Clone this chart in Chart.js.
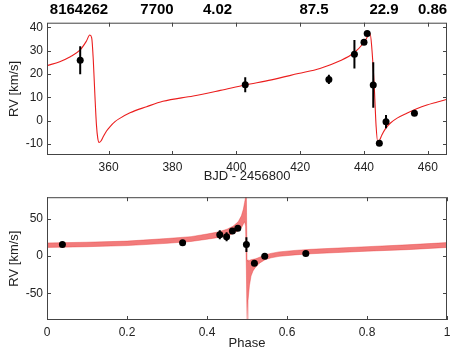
<!DOCTYPE html>
<html>
<head>
<meta charset="utf-8">
<script src="https://cdn.jsdelivr.net/npm/chart.js@4.4.1/dist/chart.umd.min.js"></script>
<style>
  body { margin: 0; background: #fff; }
  #wrap { position: relative; width: 471px; height: 353px; }
  canvas { position: absolute; left: 0; }
  #top { top: 0; }
  #bot { top: 186px; }
</style>
</head>
<body>
<div id="wrap">
  <canvas id="top" width="471" height="186"></canvas>
  <canvas id="bot" width="471" height="167"></canvas>
</div>
<script>
// header numbers
const headNums = ['8164262', '7700', '4.02', '87.5', '22.9', '0.86'];
const headX = [79, 157, 217.5, 314, 384, 432.5];

// model curve, top panel (BJD - 2456800, km/s)
const modelT = [340.7, 344.7, 348, 351, 353, 354.1, 354.7, 355.2, 355.7, 356.2, 356.6, 357, 357.6, 358.3, 359.3, 360.4, 362, 363.5, 366.7, 371.9, 377, 386.5, 395, 402.8, 411, 419.4, 426.2, 432.5, 436.7, 439.8, 441.3, 441.9, 442.4, 443.2, 443.8, 444.3, 444.9, 445.6, 446.8, 448.2, 450.5, 453.4, 456.5, 459.7, 463, 466];
const modelRV = [23.6, 25.3, 27.4, 30.2, 34, 36.7, 35.5, 26, 11, -2, -7.5, -9.3, -8.7, -6.9, -4.5, -2.6, -0.4, 1.0, 3.4, 6.0, 8.3, 10.6, 13, 15.3, 17.5, 20.2, 22.4, 25.7, 28.9, 33.2, 36.4, 37.5, 32, 15, -2.5, -9, -8.3, -6.1, -3.3, -1.1, 1.2, 3.2, 5.1, 6.7, 8.0, 9.2];

// measurements
const bjd = [351.1, 402.8, 429.0, 437.0, 440.0, 441.0, 442.9, 444.8, 446.9, 455.8];
const rv = [25.9, 15.4, 17.7, 28.5, 33.6, 37.4, 15.3, -9.7, -0.4, 3.2];
const rvErr = [6, 3.2, 2, 6.1, 1, 1, 9.8, 0.8, 2.8, 1];
const phase = [0.449, 0.0385, 0.339, 0.432, 0.4635, 0.477, 0.4985, 0.5185, 0.5443, 0.647];

// phased model band
const bandPh = [0, 0.1, 0.2, 0.3, 0.36, 0.4, 0.43, 0.45, 0.465, 0.478, 0.486, 0.491, 0.494, 0.4965, 0.4985, 0.5, 0.5025, 0.506, 0.51, 0.515, 0.52, 0.53, 0.545, 0.56, 0.58, 0.62, 0.66, 0.7, 0.8, 0.9, 1.0];
const bandHi = [17.5, 18.5, 20, 23.5, 26, 29.5, 32.5, 36, 40, 46, 54, 63, 72, 79, 79, -5, -7, -6, -5, -4.5, -4, -2, 1.5, 3.5, 5.5, 7.5, 9, 10, 12.5, 15, 18];
const bandLo = [11.5, 12.5, 14, 17, 19.5, 22.5, 25, 27, 30, 34, 38, 43, 46, 40, -20, -85, -60, -40, -27, -20, -16, -10, -5, -2.5, -0.5, 1.5, 3, 4, 6.5, 8.5, 11.5];

// axis ticks
const bjdTicks = [360, 380, 400, 420, 440, 460];
const rvTicks = [-10, 0, 10, 20, 30, 40];
const phTicks = [0, 0.2, 0.4, 0.6, 0.8, 1];
const rv2Ticks = [-50, 0, 50];

const FONT = "'Liberation Sans', Arial, Helvetica, sans-serif";
const zip = (a, b) => a.map((v, i) => ({x: v, y: b[i]}));

// box with inward ticks on all four sides
const frame = {
  id: 'frame',
  afterDraw(chart) {
    const {ctx, chartArea: a, scales: {x, y}} = chart;
    ctx.save();
    ctx.strokeStyle = '#444';
    ctx.lineWidth = 1;
    ctx.strokeRect(a.left + 0.5, a.top + 0.5, a.right - a.left - 1, a.bottom - a.top - 1);
    ctx.beginPath();
    x.ticks.forEach(t => {
      const p = Math.round(x.getPixelForValue(t.value)) + 0.5;
      ctx.moveTo(p, a.bottom); ctx.lineTo(p, a.bottom - 4);
      ctx.moveTo(p, a.top); ctx.lineTo(p, a.top + 4);
    });
    y.ticks.forEach(t => {
      const p = Math.round(y.getPixelForValue(t.value)) + 0.5;
      ctx.moveTo(a.left, p); ctx.lineTo(a.left + 4, p);
      ctx.moveTo(a.right, p); ctx.lineTo(a.right - 4, p);
    });
    ctx.stroke();
    ctx.restore();
  }
};

// vertical error bars from dataset.errs
const errBars = {
  id: 'errBars',
  afterDatasetsDraw(chart) {
    const {ctx, scales: {x, y}} = chart;
    chart.data.datasets.forEach(ds => {
      if (!ds.errs) return;
      ctx.save();
      ctx.strokeStyle = '#000';
      ctx.lineWidth = 2;
      ctx.beginPath();
      ds.data.forEach((p, i) => {
        const px = x.getPixelForValue(p.x);
        ctx.moveTo(px, y.getPixelForValue(p.y - ds.errs[i]));
        ctx.lineTo(px, y.getPixelForValue(p.y + ds.errs[i]));
      });
      ctx.stroke();
      ctx.restore();
    });
  }
};

const header = {
  id: 'header',
  afterDraw(chart) {
    const ctx = chart.ctx;
    ctx.save();
    ctx.font = 'bold 15px ' + FONT;
    ctx.fillStyle = '#000';
    ctx.textAlign = 'center';
    ctx.textBaseline = 'middle';
    headNums.forEach((s, i) => ctx.fillText(s, headX[i], 10));
    ctx.restore();
  }
};

function axes(xr, yr, xTicks, yTicks, xTitle, xH, titlePad) {
  return {
    x: {
      type: 'linear', min: xr[0], max: xr[1],
      grid: {display: false, drawTicks: false}, border: {display: false},
      afterBuildTicks: s => { s.ticks = xTicks.map(v => ({value: v})); },
      afterFit: s => { s.height = xH; },
      ticks: {padding: 5, color: '#222', font: {family: FONT, size: 12}, maxRotation: 0, callback: v => String(v)},
      title: {display: true, text: xTitle, color: '#222', font: {family: FONT, size: 13}, padding: {top: 0, bottom: titlePad}}
    },
    y: {
      type: 'linear', min: yr[0], max: yr[1],
      grid: {display: false, drawTicks: false}, border: {display: false},
      afterBuildTicks: s => { s.ticks = yTicks.map(v => ({value: v})); },
      afterFit: s => { s.width = 47; },
      ticks: {padding: 4, color: '#222', font: {family: FONT, size: 12}, callback: v => String(v)},
      title: {display: true, text: 'RV [km/s]', color: '#222', font: {family: FONT, size: 13}, padding: {top: 7, bottom: 0}}
    }
  };
}

const common = {
  responsive: false,
  animation: false,
  devicePixelRatio: 1,
  plugins: {legend: {display: false}, tooltip: {enabled: false}}
};

new Chart(document.getElementById('top'), {
  type: 'scatter',
  data: {
    datasets: [
      {data: zip(bjd, rv), errs: rvErr, pointRadius: 3.5, backgroundColor: '#000', borderWidth: 0},
      {type: 'line', data: zip(modelT, modelRV), borderColor: 'rgb(235,30,30)', borderWidth: 1.1,
       pointRadius: 0, cubicInterpolationMode: 'monotone', fill: false}
    ]
  },
  options: Object.assign({}, common, {
    layout: {padding: {top: 22.7, right: 24, left: 0, bottom: 0}},
    scales: axes([340.7, 466], [-14.7, 42], bjdTicks, rvTicks, 'BJD - 2456800', 31, 1.5)
  }),
  plugins: [frame, errBars, header]
});

new Chart(document.getElementById('bot'), {
  type: 'scatter',
  data: {
    datasets: [
      {data: zip(phase, rv), errs: rvErr, pointRadius: 3.5, backgroundColor: '#000', borderWidth: 0},
      {type: 'line', data: zip(bandPh, bandLo), borderColor: 'rgba(230,60,60,0.7)', borderWidth: 0.6,
       pointRadius: 0, tension: 0, fill: false},
      {type: 'line', data: zip(bandPh, bandHi), borderColor: 'rgba(230,60,60,0.7)', borderWidth: 0.6,
       pointRadius: 0, tension: 0, fill: '-1', backgroundColor: 'rgba(240,100,100,0.85)'}
    ]
  },
  options: Object.assign({}, common, {
    layout: {padding: {top: 2.3, right: 24, left: 0, bottom: 0}},
    scales: axes([0, 1], [-86, 79], phTicks, rv2Ticks, 'Phase', 33, 2.2)
  }),
  plugins: [frame, errBars]
});
</script>
</body>
</html>
